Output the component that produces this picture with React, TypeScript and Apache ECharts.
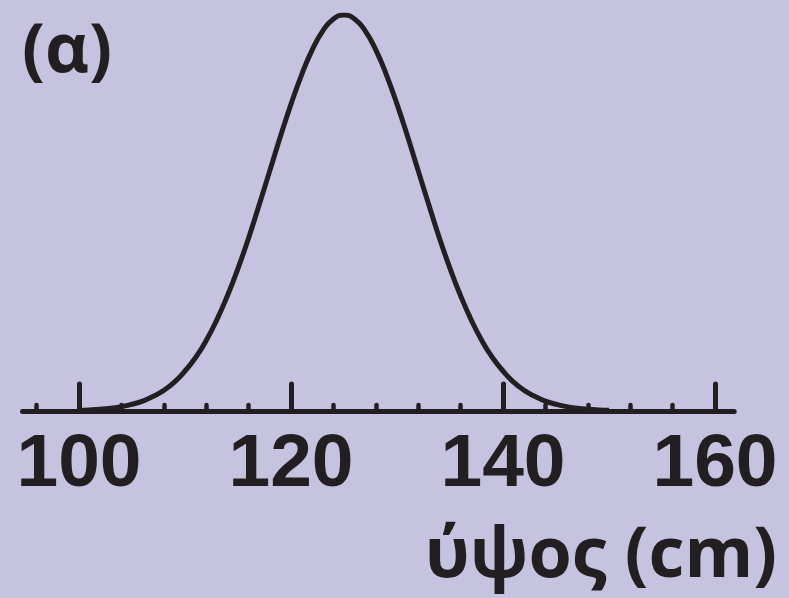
import React, { useEffect, useRef } from "react";
import * as echarts from "echarts";

// heights (cm) and relative frequency (% of peak)
const heights = [
  100, 101, 102, 103, 104, 105, 106, 107, 108, 109,
  110, 111, 112, 113, 114, 115, 116, 117, 118, 119,
  120, 121, 122, 123, 124, 125, 126, 127, 128, 129,
  130, 131, 132, 133, 134, 135, 136, 137, 138, 139,
  140, 141, 142, 143, 144, 145, 146, 147, 148, 149, 150,
];
const freq = [
  0.17, 0.28, 0.45, 0.71, 1.1, 1.7, 2.5, 3.7, 5.2, 7.3,
  10.1, 13.5, 17.8, 23.0, 29.1, 36.0, 43.7, 52.1, 60.7, 69.3,
  77.5, 84.9, 91.2, 96.0, 99.0, 100, 99.0, 96.0, 91.2, 84.9,
  77.5, 69.3, 60.7, 52.1, 43.7, 36.0, 29.1, 23.0, 17.8, 13.5,
  10.1, 7.3, 5.2, 3.7, 2.5, 1.7, 1.1, 0.71, 0.45, 0.28, 0.17,
];
const majorTicks = [100, 120, 140, 160];
const minorTicks = [96, 104, 108, 112, 116, 124, 128, 132, 136, 144, 148, 152, 156];
const panelLabel = "(α)";
const axisTitle = "ύψος (cm)";

const INK = "#231f20";
const BG = "#c6c3e1";

export default function App() {
  const ref = useRef<HTMLDivElement>(null);
  useEffect(() => {
    document.body.style.margin = "0";
    const chart = echarts.init(ref.current!, undefined, { renderer: "svg" });
    const xMin = 94.67;
    const xMax = 161.81;
    chart.setOption({
      animation: false,
      backgroundColor: BG,
      grid: { left: 22.5, right: 54.8, top: 15, bottom: 187 },
      xAxis: [
        {
          type: "value",
          min: xMin,
          max: xMax,
          position: "bottom",
          splitLine: { show: false },
          axisLine: { show: true, lineStyle: { color: INK, width: 5, cap: "round" } },
          axisTick: {
            show: true,
            inside: true,
            length: 27,
            customValues: majorTicks,
            lineStyle: { color: INK, width: 5, cap: "round" },
          },
          axisLabel: {
            show: true,
            customValues: majorTicks,
            margin: 19,
            color: INK,
            fontSize: 75,
            lineHeight: 60,
            fontWeight: "bold",
            fontFamily: "Liberation Sans",
          },
        },
        {
          type: "value",
          min: xMin,
          max: xMax,
          position: "bottom",
          splitLine: { show: false },
          axisLine: { show: false },
          axisTick: {
            show: true,
            inside: true,
            length: 6,
            customValues: minorTicks,
            lineStyle: { color: INK, width: 4.5, cap: "round" },
          },
          axisLabel: { show: false },
        },
      ],
      yAxis: {
        type: "value",
        min: 0,
        max: 100,
        show: false,
      },
      series: [
        {
          type: "line",
          data: heights.map((h, i) => [h, freq[i]]),
          smooth: true,
          showSymbol: false,
          lineStyle: { color: INK, width: 5 },
          z: 3,
        },
      ],
      graphic: [
        {
          type: "text",
          left: 22,
          top: 11,
          style: {
            text: panelLabel,
            fill: INK,
            font: "bold 68px 'Open Sans'",
          },
        },
        {
          type: "text",
          right: 12,
          top: 515,
          style: {
            text: axisTitle,
            fill: INK,
            font: "bold 70px 'Open Sans'",
          },
        },
      ],
    });
    return () => chart.dispose();
  }, []);
  return <div ref={ref} style={{ width: 789, height: 598 }} />;
}
